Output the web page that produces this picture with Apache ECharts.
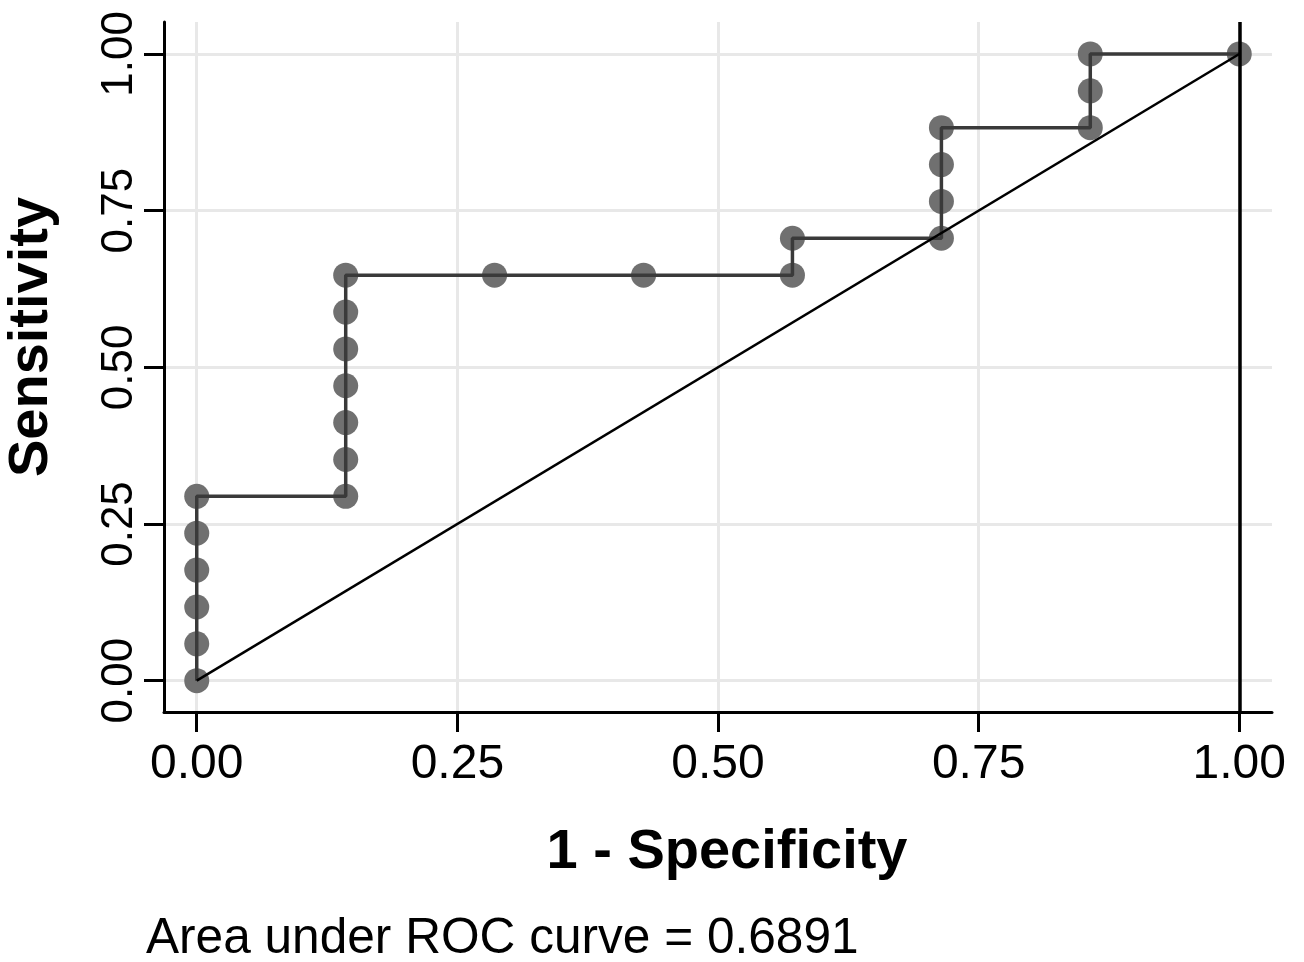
<!DOCTYPE html>
<html>
<head>
<meta charset="utf-8">
<script src="https://cdn.jsdelivr.net/npm/echarts@6/dist/echarts.min.js"></script>
<style>
html,body{margin:0;padding:0;background:#fff;}
#chart{width:1304px;height:962px;}
</style>
</head>
<body>
<div id="chart"></div>
<script>
// 1 - Specificity (false positive rate) of each ROC point
var oneMinusSpec = [0,0,0,0,0,0,
  0.1429,0.1429,0.1429,0.1429,0.1429,0.1429,0.1429,
  0.2857,0.4286,
  0.5714,0.5714,
  0.7143,0.7143,0.7143,0.7143,
  0.8571,0.8571,0.8571,
  1];
// Sensitivity of each ROC point
var sensitivity = [0,0.0588,0.1176,0.1765,0.2353,0.2941,
  0.2941,0.3529,0.4118,0.4706,0.5294,0.5882,0.6471,
  0.6471,0.6471,
  0.6471,0.7059,
  0.7059,0.7647,0.8235,0.8824,
  0.8824,0.9412,1,
  1];
var referenceX = [0,1];
var referenceY = [0,1];
var tickValues = [0,0.25,0.5,0.75,1];
var xTitle = '1 - Specificity';
var yTitle = 'Sensitivity';
var note = 'Area under ROC curve = 0.6891';

var rocPoints = oneMinusSpec.map(function(x,i){return [x, sensitivity[i]];});
var refPoints = referenceX.map(function(x,i){return [x, referenceY[i]];});

var chart = echarts.init(document.getElementById('chart'));
var font = 'Liberation Sans, Arial, sans-serif';
chart.setOption({
  backgroundColor:'#ffffff',
  animation:false,
  grid:{left:164,top:22,right:32,bottom:250,containLabel:false},
  xAxis:{
    type:'value', min:-0.0314, max:1.0314,
    axisLine:{show:true,onZero:false,lineStyle:{color:'#000',width:3}},
    axisTick:{show:true,length:20,lineStyle:{color:'#000',width:3},customValues:tickValues},
    axisLabel:{show:true,customValues:tickValues,margin:29,fontSize:48,color:'#000',fontFamily:font,
      formatter:function(v){return v.toFixed(2);}},
    splitLine:{show:true,lineStyle:{color:'#e8e8e8',width:3}}
  },
  yAxis:{
    type:'value', min:-0.05, max:1.051,
    axisLine:{show:true,onZero:false,lineStyle:{color:'#000',width:3}},
    axisTick:{show:true,length:20,lineStyle:{color:'#000',width:3},customValues:tickValues},
    axisLabel:{show:true,customValues:tickValues,rotate:90,margin:22,fontSize:44,color:'#000',fontFamily:font,
      formatter:function(v){return v.toFixed(2);}},
    splitLine:{show:true,lineStyle:{color:'#e8e8e8',width:3}}
  },
  series:[
    {type:'scatter',data:rocPoints,symbol:'circle',symbolSize:25,
     itemStyle:{color:'#707070',opacity:1},z:2,silent:true},
    {type:'line',data:rocPoints,showSymbol:false,symbol:'none',
     lineStyle:{color:'#3a3a3a',width:3.5},z:3,silent:true},
    {type:'line',data:refPoints,showSymbol:false,symbol:'none',
     lineStyle:{color:'#000',width:2.5},z:4,silent:true,
     markLine:{silent:true,symbol:'none',label:{show:false},
       lineStyle:{color:'#000',width:3.5,type:'solid'},
       data:[{xAxis:1}]}}
  ],
  graphic:[
    {type:'text',x:727,y:853,style:{text:xTitle,font:'bold 56px '+font,fill:'#000',align:'center',verticalAlign:'middle'}},
    {type:'text',x:32,y:337,rotation:Math.PI/2,style:{text:yTitle,font:'bold 56px '+font,fill:'#000',align:'center',verticalAlign:'middle'}},
    {type:'text',x:146,y:939,style:{text:note,font:'49.6px '+font,fill:'#000',align:'left',verticalAlign:'middle'}}
  ]
});
</script>
</body>
</html>
